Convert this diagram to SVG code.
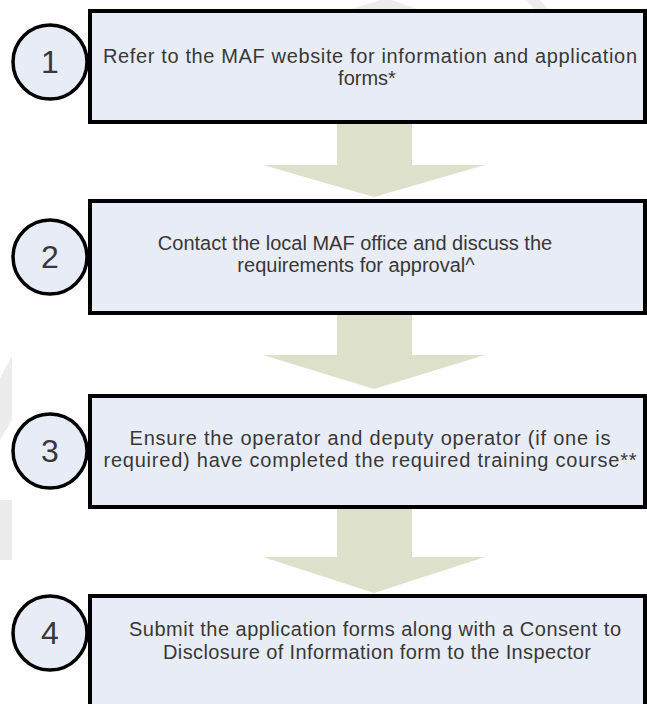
<svg xmlns="http://www.w3.org/2000/svg" width="647" height="704" viewBox="0 0 647 704">
<style>
.box{fill:#e8ecf6;stroke:#000;stroke-width:4}
.num{fill:#e8ecf6;stroke:#000;stroke-width:3.5}
.t{font-family:"Liberation Sans",Arial,sans-serif;font-size:20px;fill:#383838;text-anchor:middle}
.n{font-family:"Liberation Sans",Arial,sans-serif;font-size:32px;fill:#383838;text-anchor:middle}
.arr{fill:#dde0cb}
.wm{fill:#ececec}
</style>
<rect width="647" height="704" fill="#fff"/>
<g id="watermark">
<polygon class="wm" points="0,378 12,356 12,420 0,440"/>
<polygon class="wm" points="0,500 12,500 12,560 0,560"/>
<polygon class="wm" points="348,10 380,0 392,0 420,10"/>
<polygon class="wm" points="526,0 540,0 549,10 535,10"/>
</g>
<g id="connectors">
<polygon class="arr" points="337,123 412,123 412,165 485,165 374,197 263,165 337,165"/>
<polygon class="arr" points="337,313 412,313 412,355 485,355 374,389 263,355 337,355"/>
<polygon class="arr" points="337,508 412,508 412,557 485,557 374,593 263,557 337,557"/>
</g>
<g id="step1">
<rect class="box" x="90" y="11" width="555" height="111"/>
<circle class="num" cx="50" cy="62" r="37"/>
<text class="n" x="50" y="73">1</text>
<text class="t" x="370" y="63" textLength="534" lengthAdjust="spacing">Refer to the MAF website for information and application</text>
<text class="t" x="367" y="85">forms*</text>
</g>
<g id="step2">
<rect class="box" x="90" y="201" width="555" height="112"/>
<circle class="num" cx="50" cy="257" r="37"/>
<text class="n" x="50" y="268">2</text>
<text class="t" x="355" y="250">Contact the local MAF office and discuss the</text>
<text class="t" x="356" y="272">requirements for approval^</text>
</g>
<g id="step3">
<rect class="box" x="90" y="396" width="555" height="111"/>
<circle class="num" cx="50" cy="451" r="37"/>
<text class="n" x="50" y="462">3</text>
<text class="t" x="370" y="445" textLength="481" lengthAdjust="spacing">Ensure the operator and deputy operator (if one is</text>
<text class="t" x="370" y="467" textLength="533" lengthAdjust="spacing">required) have completed the required training course**</text>
</g>
<g id="step4">
<rect class="box" x="90" y="596" width="555" height="130"/>
<circle class="num" cx="50" cy="633" r="37"/>
<text class="n" x="50" y="644">4</text>
<text class="t" x="375" y="636" textLength="492" lengthAdjust="spacing">Submit the application forms along with a Consent to</text>
<text class="t" x="377" y="659" textLength="428" lengthAdjust="spacing">Disclosure of Information form to the Inspector</text>
</g>
</svg>
